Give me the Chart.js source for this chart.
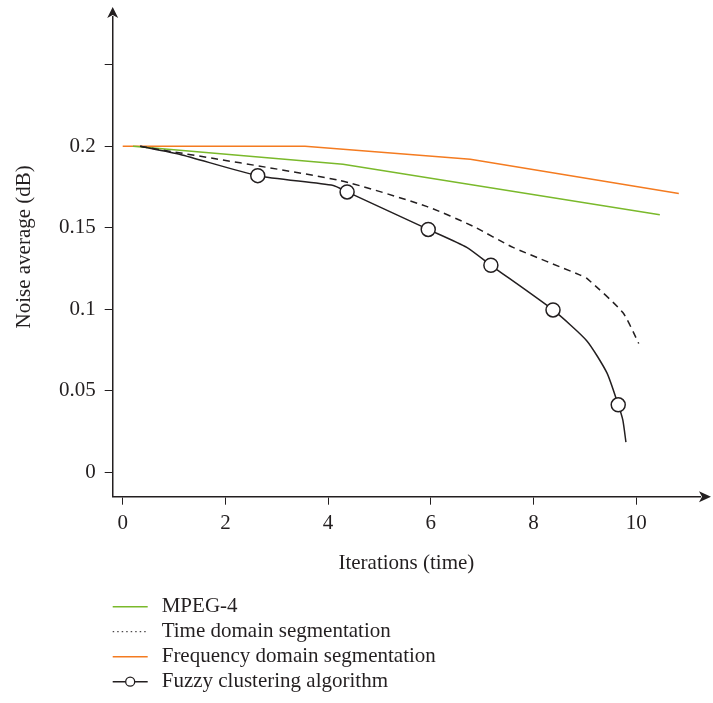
<!DOCTYPE html>
<html>
<head>
<meta charset="utf-8">
<script src="https://cdn.jsdelivr.net/npm/chart.js@4/dist/chart.umd.min.js"></script>
<style>
  html, body { margin: 0; padding: 0; background: #ffffff; }
  #wrap { width: 713px; height: 703px; position: relative; }
</style>
</head>
<body>
<div id="wrap"><canvas id="c" width="713" height="703"></canvas></div>
<script>
// ---- data ----
const seriesNames = ['MPEG-4', 'Time domain segmentation', 'Frequency domain segmentation', 'Fuzzy clustering algorithm'];

const mpegX = [0.2, 4.29, 10.46];
const mpegY = [0.2, 0.189, 0.158];

const timeX = [0.34, 4.23, 5.93, 6.82, 7.6, 8.91, 9.04, 9.74, 10.05];
const timeY = [0.2, 0.179, 0.163, 0.151, 0.138, 0.121, 0.119, 0.098, 0.079];

const freqX = [0, 3.55, 6.77, 10.83];
const freqY = [0.2, 0.2, 0.192, 0.171];

const fuzzyX = [0.34, 1.12, 2.63, 4.1, 4.37, 5.95, 6.7, 7.17, 8.38, 9.04, 9.43, 9.65, 9.74, 9.8];
const fuzzyY = [0.2, 0.195, 0.182, 0.176, 0.172, 0.149, 0.138, 0.127, 0.0996, 0.0806, 0.061, 0.0414, 0.032, 0.0185];
const fuzzyHasMarker = [false, false, true, false, true, true, false, true, true, false, false, true, false, false];

const xTickValues = [0, 2, 4, 6, 8, 10];
const yTickValues = [0, 0.05, 0.1, 0.15, 0.2, 0.25];
const yTickLabels = ['0', '0.05', '0.1', '0.15', '0.2', ''];

const xTitle = 'Iterations (time)';
const yTitle = 'Noise average (dB)';

// ---- helpers ----
const pts = (xs, ys) => xs.map((x, i) => ({ x: x, y: ys[i] }));

const INK = '#231f20';
const GREEN = '#7ab92b';
const ORANGE = '#f47b20';
const FONT = "'Liberation Serif', 'Times New Roman', serif";

Chart.defaults.font.family = FONT;
Chart.defaults.font.size = 21;
Chart.defaults.color = INK;

const AREA = { left: 112.7, right: 700, top: 17, bottom: 496.7 };
const PAD = { left: 12, right: 713 - AREA.right, top: AREA.top, bottom: 127.4 };

const arrowsAndLegend = {
  id: 'arrowsAndLegend',
  afterDraw(chart) {
    const ctx = chart.ctx;
    const a = chart.chartArea;
    ctx.save();
    // axis arrowheads
    ctx.fillStyle = INK;
    ctx.beginPath();
    ctx.moveTo(a.left, a.top - 10);
    ctx.lineTo(a.left - 5.5, a.top + 1);
    ctx.lineTo(a.left, a.top - 2);
    ctx.lineTo(a.left + 5.5, a.top + 1);
    ctx.closePath();
    ctx.fill();
    ctx.beginPath();
    ctx.moveTo(a.right + 11, a.bottom);
    ctx.lineTo(a.right - 1, a.bottom - 5.5);
    ctx.lineTo(a.right + 2, a.bottom);
    ctx.lineTo(a.right - 1, a.bottom + 5.5);
    ctx.closePath();
    ctx.fill();

    // y axis title
    ctx.save();
    ctx.font = '21px ' + FONT;
    ctx.fillStyle = INK;
    ctx.textAlign = 'center';
    ctx.textBaseline = 'middle';
    ctx.translate(a.left - 88, (a.top + a.bottom) / 2 - 10);
    ctx.rotate(-Math.PI / 2);
    ctx.fillText(yTitle, 0, 0);
    ctx.restore();

    // legend
    const x0 = a.left;
    const y0 = a.bottom + 110;
    const step = 25;
    const sampleW = 35;
    ctx.font = '21px ' + FONT;
    ctx.textBaseline = 'middle';
    ctx.textAlign = 'left';
    chart.data.datasets.forEach((ds, i) => {
      const y = y0 + i * step;
      ctx.save();
      ctx.lineWidth = 1.5;
      ctx.strokeStyle = ds.borderColor;
      if (i === 1) { ctx.lineWidth = 1; ctx.setLineDash([1.5, 3]); }
      ctx.beginPath();
      ctx.moveTo(x0, y);
      ctx.lineTo(x0 + sampleW, y);
      ctx.stroke();
      ctx.setLineDash([]);
      if (i === 3) {
        ctx.beginPath();
        ctx.arc(x0 + sampleW / 2, y, 4.5, 0, Math.PI * 2);
        ctx.fillStyle = '#ffffff';
        ctx.fill();
        ctx.lineWidth = 1.3;
        ctx.stroke();
      }
      ctx.restore();
      ctx.fillStyle = INK;
      ctx.fillText(ds.label, x0 + 49, y);
    });
    ctx.restore();
  }
};

new Chart(document.getElementById('c'), {
  type: 'line',
  data: {
    datasets: [
      {
        label: seriesNames[0],
        data: pts(mpegX, mpegY),
        borderColor: GREEN,
        borderWidth: 1.5,
        pointRadius: 0,
        tension: 0,
        order: 4
      },
      {
        label: seriesNames[1],
        data: pts(timeX, timeY),
        borderColor: INK,
        borderWidth: 1.5,
        borderDash: [7, 5],
        pointRadius: 0,
        tension: 0.2,
        order: 3
      },
      {
        label: seriesNames[2],
        data: pts(freqX, freqY),
        borderColor: ORANGE,
        borderWidth: 1.5,
        pointRadius: 0,
        tension: 0,
        order: 5
      },
      {
        label: seriesNames[3],
        data: pts(fuzzyX, fuzzyY),
        borderColor: INK,
        borderWidth: 1.5,
        pointRadius: fuzzyHasMarker.map(m => m ? 7 : 0),
        pointBackgroundColor: '#ffffff',
        pointBorderColor: INK,
        pointBorderWidth: 1.5,
        tension: 0.2,
        order: 1
      }
    ]
  },
  options: {
    responsive: false,
    animation: false,
    events: [],
    layout: { padding: PAD },
    plugins: { legend: { display: false }, tooltip: { enabled: false } },
    scales: {
      x: {
        type: 'linear',
        min: (AREA.left - 122.7) / 51.35,
        max: (AREA.right - 122.7) / 51.35,
        afterBuildTicks: s => { s.ticks = xTickValues.map(v => ({ value: v })); },
        afterFit: s => { s.height = 703 - PAD.bottom - AREA.bottom; s.paddingLeft = 0; s.paddingRight = 0; },
        ticks: { padding: 6, maxRotation: 0, autoSkip: false, callback: v => String(v) },
        grid: { drawOnChartArea: false, drawTicks: true, tickLength: 8, color: INK, lineWidth: 1 },
        border: { display: true, color: INK, width: 1.5 },
        title: { display: true, text: xTitle, padding: { top: 0, bottom: 0 } }
      },
      y: {
        type: 'linear',
        min: (472.3 - AREA.bottom) / 1630,
        max: (472.3 - AREA.top) / 1630,
        afterBuildTicks: s => { s.ticks = yTickValues.map(v => ({ value: v })); },
        afterFit: s => { s.width = AREA.left - PAD.left; s.paddingTop = 0; s.paddingBottom = 0; },
        ticks: {
          padding: 9,
          autoSkip: false,
          callback: v => { const i = yTickValues.findIndex(t => Math.abs(t - v) < 1e-9); return i >= 0 ? yTickLabels[i] : ''; }
        },
        grid: { drawOnChartArea: false, drawTicks: true, tickLength: 8, color: INK, lineWidth: 1 },
        border: { display: true, color: INK, width: 1.5 },
        title: { display: false, text: yTitle }
      }
    }
  },
  plugins: [arrowsAndLegend]
});
</script>
</body>
</html>
